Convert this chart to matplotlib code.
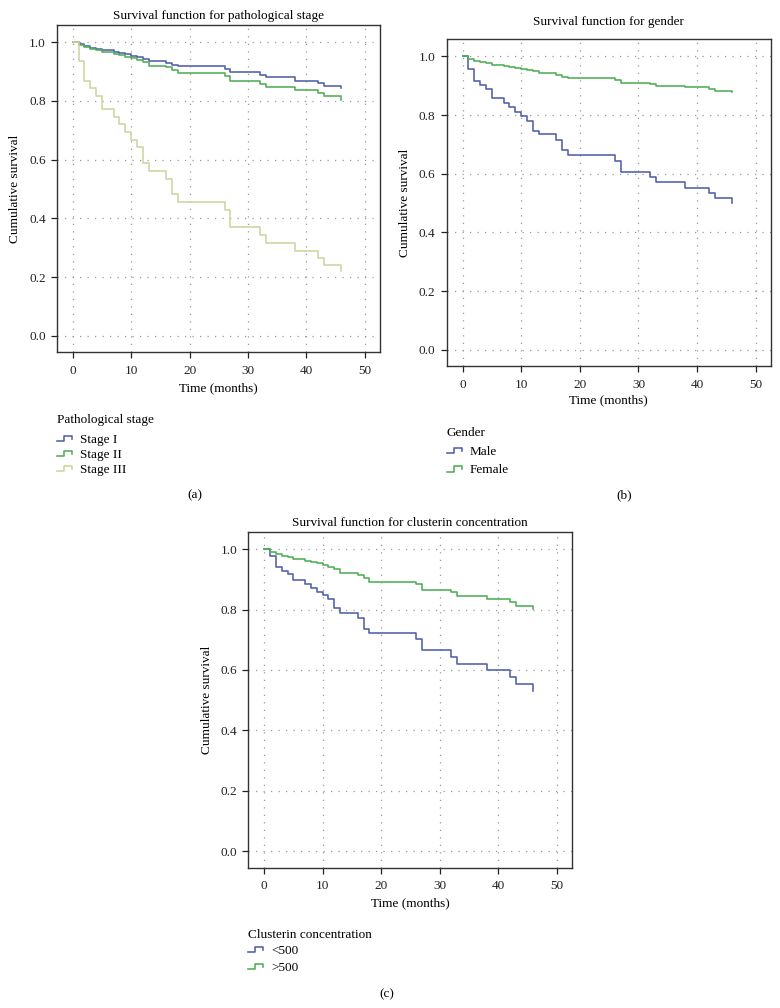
import matplotlib
matplotlib.use("Agg")
import matplotlib.pyplot as plt
from matplotlib.lines import Line2D
from matplotlib.legend_handler import HandlerBase

plt.rcParams['font.family'] = ['Liberation Serif', 'DejaVu Serif']
plt.rcParams['font.size'] = 9.5

# event times (months) shared by all curves
months = [0, 1, 2, 3, 4, 5, 7, 8, 9, 10, 11, 12, 13, 16, 17, 18, 26, 27, 32, 33, 38, 42, 43, 46]

# (a) pathological stage
stage_labels = ["Stage I", "Stage II", "Stage III"]
stage1 = [1.0, 0.993, 0.985, 0.98, 0.976, 0.972, 0.967, 0.962, 0.958, 0.953, 0.948, 0.942,
          0.935, 0.93, 0.922, 0.917, 0.908, 0.897, 0.889, 0.88, 0.869, 0.86, 0.851, 0.845]
stage2 = [1.0, 0.99, 0.983, 0.978, 0.972, 0.965, 0.96, 0.955, 0.95, 0.944, 0.938, 0.932,
          0.92, 0.915, 0.905, 0.894, 0.885, 0.868, 0.858, 0.847, 0.837, 0.826, 0.815, 0.804]
stage3 = [1.0, 0.935, 0.867, 0.843, 0.818, 0.772, 0.746, 0.72, 0.694, 0.668, 0.643, 0.588,
          0.562, 0.534, 0.484, 0.457, 0.429, 0.372, 0.344, 0.316, 0.29, 0.265, 0.24, 0.22]

# (b) gender
gender_labels = ["Male", "Female"]
male = [1.0, 0.958, 0.916, 0.901, 0.888, 0.858, 0.842, 0.827, 0.811, 0.796, 0.779, 0.747,
        0.734, 0.715, 0.68, 0.663, 0.645, 0.606, 0.589, 0.571, 0.552, 0.535, 0.516, 0.499]
female = [1.0, 0.991, 0.985, 0.981, 0.977, 0.972, 0.968, 0.965, 0.961, 0.957, 0.953, 0.949,
          0.944, 0.938, 0.931, 0.925, 0.921, 0.91, 0.905, 0.899, 0.894, 0.889, 0.882, 0.879]

# (c) clusterin concentration
clu_labels = ["<500", ">500"]
clu_low = [1.0, 0.979, 0.942, 0.929, 0.917, 0.898, 0.884, 0.871, 0.859, 0.847, 0.834, 0.804,
           0.79, 0.771, 0.737, 0.721, 0.703, 0.665, 0.642, 0.62, 0.599, 0.576, 0.553, 0.531]
clu_high = [1.0, 0.99, 0.983, 0.979, 0.974, 0.967, 0.962, 0.958, 0.953, 0.948, 0.942, 0.934,
            0.92, 0.915, 0.904, 0.891, 0.885, 0.865, 0.857, 0.845, 0.834, 0.824, 0.812, 0.801]

xticks = [0, 10, 20, 30, 40, 50]
yticks = [0.0, 0.2, 0.4, 0.6, 0.8, 1.0]

BLUE = "#4f5fa9"
GREEN = "#4fae56"
KHAKI = "#d0d3a0"


class StepHandler(HandlerBase):
    def create_artists(self, legend, orig_handle, xdescent, ydescent, width, height, fontsize, trans):
        x0, y0 = -xdescent, -ydescent
        xs = [x0, x0 + 0.45 * width, x0 + 0.45 * width, x0 + width, x0 + width]
        ys = [y0 + 0.2 * height, y0 + 0.2 * height, y0 + 0.75 * height, y0 + 0.75 * height, y0 + 0.45 * height]
        ln = Line2D(xs, ys, color=orig_handle.get_color(), lw=orig_handle.get_linewidth())
        ln.set_transform(trans)
        return [ln]


W, H = 780, 1008
fig = plt.figure(figsize=(W / 100, H / 100), dpi=100)


def make_axes(left, right, top, bottom):
    return fig.add_axes([left / W, 1 - bottom / H, (right - left) / W, (bottom - top) / H])


def style(ax, title, pad, xlab_y):
    ax.set_xlim(-2.7, 52.6)
    ax.set_ylim(-0.055, 1.058)
    ax.set_xticks(xticks)
    ax.set_yticks(yticks)
    ax.set_yticklabels(["%.1f" % v for v in yticks])
    ax.grid(True, color="#999999", linestyle=(0, (1, 5)), linewidth=0.9)
    ax.tick_params(length=4.5, width=0.9, pad=3.5, colors="#222222", labelsize=9.5)
    ax.tick_params(axis="x", pad=4.5)
    for sp in ax.spines.values():
        sp.set_color("#333333")
        sp.set_linewidth(1.0)
    ax.set_title(title, fontsize=9.5, pad=pad)
    ax.set_xlabel("Time (months)")
    ax.set_ylabel("Cumulative survival")
    ax.xaxis.set_label_coords(0.5, xlab_y)
    ax.yaxis.set_label_coords(-0.11, 0.5)


def add_legend(ax, handles, labels, title, x, title_y, y, spacing):
    fig.text(x / W, 1 - title_y / H, title, ha="left", va="center", fontsize=9.5)
    leg = ax.legend(handles, labels, loc="upper left",
                    bbox_to_anchor=(x / W, 1 - y / H), bbox_transform=fig.transFigure,
                    frameon=False, borderpad=0, borderaxespad=0,
                    handlelength=1.15, handletextpad=0.6, labelspacing=spacing,
                    fontsize=9.5, handler_map={Line2D: StepHandler()})
    return leg


lw = 1.15

# panel (a)
ax_a = make_axes(57, 380, 25, 352)
ha = []
for vals, col in zip([stage1, stage2, stage3], [BLUE, GREEN, KHAKI]):
    h, = ax_a.step(months, vals, where="post", color=col, lw=lw)
    ha.append(h)
style(ax_a, "Survival function for pathological stage", 4, -0.092)
add_legend(ax_a, ha, stage_labels, "Pathological stage", 57, 420, 434, 0.2)

# panel (b)
ax_b = make_axes(446.7, 771, 39.3, 366)
hb = []
for vals, col in zip([male, female], [BLUE, GREEN]):
    h, = ax_b.step(months, vals, where="post", color=col, lw=lw)
    hb.append(h)
style(ax_b, "Survival function for gender", 10, -0.088)
add_legend(ax_b, hb, gender_labels, "Gender", 447, 433, 446, 0.45)

# panel (c)
ax_c = make_axes(248.3, 572, 531.7, 867.7)
hc = []
for vals, col in zip([clu_low, clu_high], [BLUE, GREEN]):
    h, = ax_c.step(months, vals, where="post", color=col, lw=lw)
    hc.append(h)
style(ax_c, "Survival function for clusterin concentration", 4, -0.088)
add_legend(ax_c, hc, clu_labels, "Clusterin concentration", 248, 935, 945, 0.35)

fig.text(195 / W, 1 - 495 / H, "(a)", ha="center", va="center", fontsize=9.5)
fig.text(624 / W, 1 - 495 / H, "(b)", ha="center", va="center", fontsize=9.5)
fig.text(387 / W, 1 - 994 / H, "(c)", ha="center", va="center", fontsize=9.5)

fig.savefig("out.png", dpi=100, facecolor="white")
